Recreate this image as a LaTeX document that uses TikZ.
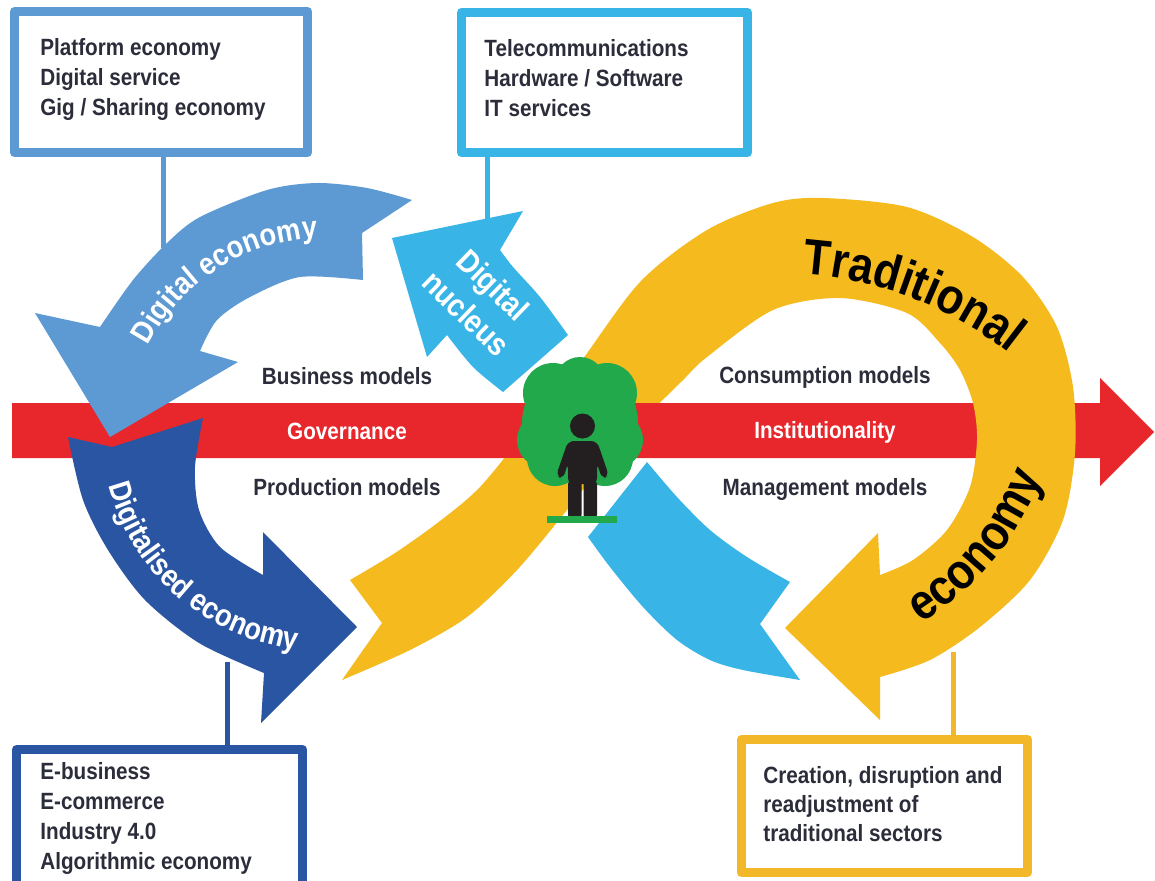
\documentclass[tikz,border=0pt]{standalone}
\usepackage{fontspec}
\setmainfont{Liberation Sans}
\newfontfamily\cf{Liberation Sans}[FakeStretch=0.88]
\usetikzlibrary{decorations.text}
\definecolor{cred}{HTML}{E8272C}
\definecolor{cyel}{HTML}{F4BA1E}
\definecolor{ccyan}{HTML}{38B4E6}
\definecolor{cmid}{HTML}{5D9AD3}
\definecolor{cdark}{HTML}{2A55A2}
\definecolor{cgreen}{HTML}{22A94B}
\definecolor{cperson}{HTML}{231F20}
\definecolor{ctext}{HTML}{2C2D3A}
\definecolor{cgold}{HTML}{F2B82A}
\newcommand\fBox{\cf\bfseries\fontsize{11.75}{15}\selectfont}
\newcommand\fArrow{\cf\bfseries\fontsize{15.5}{18}\selectfont}
\newcommand\fNuc{\cf\bfseries\fontsize{16}{19.5}\selectfont}
\newcommand\fBig{\cf\bfseries\fontsize{25}{30}\selectfont}
\tikzset{
  infobox/.style={draw, line width=4.5pt, inner sep=0pt, outer sep=0pt, fill=white},
  conn/.style={line width=2.5pt},
  boxtext/.style={anchor=base west, inner sep=0pt, font=\fBox, text=ctext},
  midlabel/.style={anchor=base, inner sep=0pt, font=\fBox, text=ctext},
  redlabel/.style={anchor=base, inner sep=0pt, font=\fBox, text=white},
}
\begin{document}
\begin{tikzpicture}[x=0.5pt,y=-0.5pt,line join=round]
\clip (0,0) rectangle (1155,880);
\fill[white] (0,0) rectangle (1155,880);
% boxes
\node[infobox, draw=cmid, minimum width=146.5pt, minimum height=70.5pt] (b1) at (161,82) {};
\node[infobox, draw=ccyan, minimum width=143pt, minimum height=70pt] (b2) at (604.5,82.5) {};
\node[infobox, draw=cdark, minimum width=143pt, minimum height=80.25pt] (b3) at (159.5,829.75) {};
\node[infobox, draw=cgold, minimum width=143pt, minimum height=66.5pt] (b4) at (884.5,806) {};
% red bar
\fill[cred] (12,403) -- (1100,403) -- (1100,378) -- (1154,432) -- (1100,486) -- (1100,458) -- (12,458) -- cycle;
% yellow loop (traditional economy)
\fill[cyel] (350,580) -- plot[smooth] coordinates {(350,580) (395,553) (440,521) (480,487) (525,432) (577,367) (640,282) (707,230) (773,203) (823,198) (907,207) (973,237) (1023,277) (1057,327) (1073,387) (1075,453) (1063,520) (1030,580) (980,627) (930,660) (880,677)} -- (880,720) -- (785,628) -- (878,533) -- plot[smooth] coordinates {(880,575) (913,560) (947,530) (970,487) (977,440) (973,403) (960,370) (940,343) (907,313) (840,298) (773,310) (707,357) (683,380) (640,423) (600,468) (567,510) (517,570) (467,617) (410,650) (342,680)} -- (382,623) -- cycle;
% red bar over the crossing
\fill[cred] (12,403) rectangle (972,458);
% connector ends
\coordinate (c1) at (163,248);
\coordinate (c2) at (487,224);
\coordinate (c3) at (227,662);
\coordinate (c4) at (953,652);
\draw[conn, draw=cmid] (b1.south -| c1) -- (c1);
\draw[conn, draw=ccyan] (b2.south -| c2) -- (c2);
\draw[conn, draw=cdark] (b3.north -| c3) -- (c3);
\draw[conn, draw=cgold] (b4.north -| c4) -- (c4);
% cyan: digital nucleus
\fill[ccyan] (392,238) -- (427,357) -- (447,335) -- plot[smooth] coordinates {(447,335) (473,367) (503,392)} -- (568,335) -- plot[smooth] coordinates {(568,335) (540,297) (513,267) (500,250)} -- (523,211) -- cycle;
% cyan lower part
\fill[ccyan] (588,537) -- (647,462) -- plot[smooth] coordinates {(647,462) (677,497) (710,530) (747,557) (790,582)} -- (760,624) -- (800,680) -- plot[smooth] coordinates {(800,680) (743,670) (710,660) (677,640) (643,607) (610,567) (588,537)} -- cycle;
% dark blue: digitalised economy
\fill[cdark] (68,437) -- (112,447) -- (203,418) -- plot[smooth] coordinates {(203,418) (195,467) (199,510) (220,547) (263,575)} -- (263,532) -- (357,627) -- (261,723) -- (264,673) -- plot[smooth] coordinates {(264,673) (199,643) (145,600) (108,550) (83,500) (68,437)} -- cycle;
% mid blue: digital economy
\fill[cmid] (412,200) -- (362,233) -- (363,280) -- plot[smooth] coordinates {(363,280) (300,277) (250,297) (217,320) (200,351)} -- (238,362) -- (110,437) -- (35,313) -- (100,327) -- plot[smooth] coordinates {(100,327) (133,280) (167,243) (200,217) (267,190) (317,183) (367,188) (412,200)} -- cycle;
% tree
\fill[cgreen] (580,423) circle[radius=58];
\fill[cgreen] (580,382) circle[radius=25];
\fill[cgreen] (553,393) circle[radius=30];
\fill[cgreen] (607,393) circle[radius=30];
\fill[cgreen] (545,440) circle[radius=28];
\fill[cgreen] (615,440) circle[radius=28];
\fill[cgreen] (555,458) circle[radius=28];
\fill[cgreen] (605,458) circle[radius=28];
% person
\fill[cperson] (582.5,426) circle[radius=12.5];
\fill[cperson, rounded corners=3pt] (568,441) -- (597,441) -- (609,476) -- (602,479) -- (597,463) -- (597,484) -- (568,484) -- (568,463) -- (563,479) -- (556,476) -- cycle;
\fill[cperson, rounded corners=2pt] (568,480) rectangle (581.5,519);
\fill[cperson, rounded corners=2pt] (583.5,480) rectangle (597,519);
\fill[cgreen] (547,515.5) rectangle (617,523);
% arrow texts
\path[decorate, decoration={text along path, text align=center, text color=white, text={|\fArrow|Digital economy}}] plot[domain=0:1, samples=40] ({324+197*cos(190+95*\x)}, {435+197*sin(190+95*\x)});
\path[decorate, decoration={text along path, text align=center, text color=white, text={|\fArrow|Digitalised economy}}] plot[domain=0:1, samples=40] ({323+222*cos(175-88*\x)}, {429+222*sin(175-88*\x)});
\path[decorate, decoration={text along path, text align=center, text color=black, text={|\fBig|Traditional}}] plot[domain=0:1, samples=50] ({776+380*cos(260+62*\x)}, {653+380*sin(260+62*\x)});
\path[decorate, decoration={text along path, text align=center, text color=black, text={|\fBig|economy}}] plot[domain=0:1, samples=50] ({767+294*cos(75-71*\x)}, {373+294*sin(75-71*\x)});
\node[font=\fNuc, text=white, align=center, rotate=-44, inner sep=0pt] (nuc) at (480,299) {Digital\\nucleus};
% labels
\node[midlabel] (bm) at (347,384) {Business models};
\node[redlabel] (gov) at (347,439) {Governance};
\node[midlabel] (pm) at (347,495) {Production models};
\node[midlabel] (cm) at (825,383.5) {Consumption models};
\node[redlabel] (inst) at (825,438) {Institutionality};
\node[midlabel] (mm) at (825,495) {Management models};
% box texts
\node[boxtext] (t11) at (40,55) {Platform economy};
\node[boxtext] (t12) at (40,85) {Digital service};
\node[boxtext] (t13) at (40,115) {Gig / Sharing economy};
\node[boxtext] (t21) at (484,56.5) {Telecommunications};
\node[boxtext] (t22) at (484,86.5) {Hardware / Software};
\node[boxtext] (t23) at (484,116.5) {IT services};
\node[boxtext] (t31) at (40,779.5) {E-business};
\node[boxtext] (t32) at (40,809.5) {E-commerce};
\node[boxtext] (t33) at (40,839.5) {Industry 4.0};
\node[boxtext] (t34) at (40,869.5) {Algorithmic economy};
\node[boxtext] (t41) at (763,783.5) {Creation, disruption and};
\node[boxtext] (t42) at (763,812.5) {readjustment of};
\node[boxtext] (t43) at (763,841.5) {traditional sectors};
\end{tikzpicture}
\end{document}
